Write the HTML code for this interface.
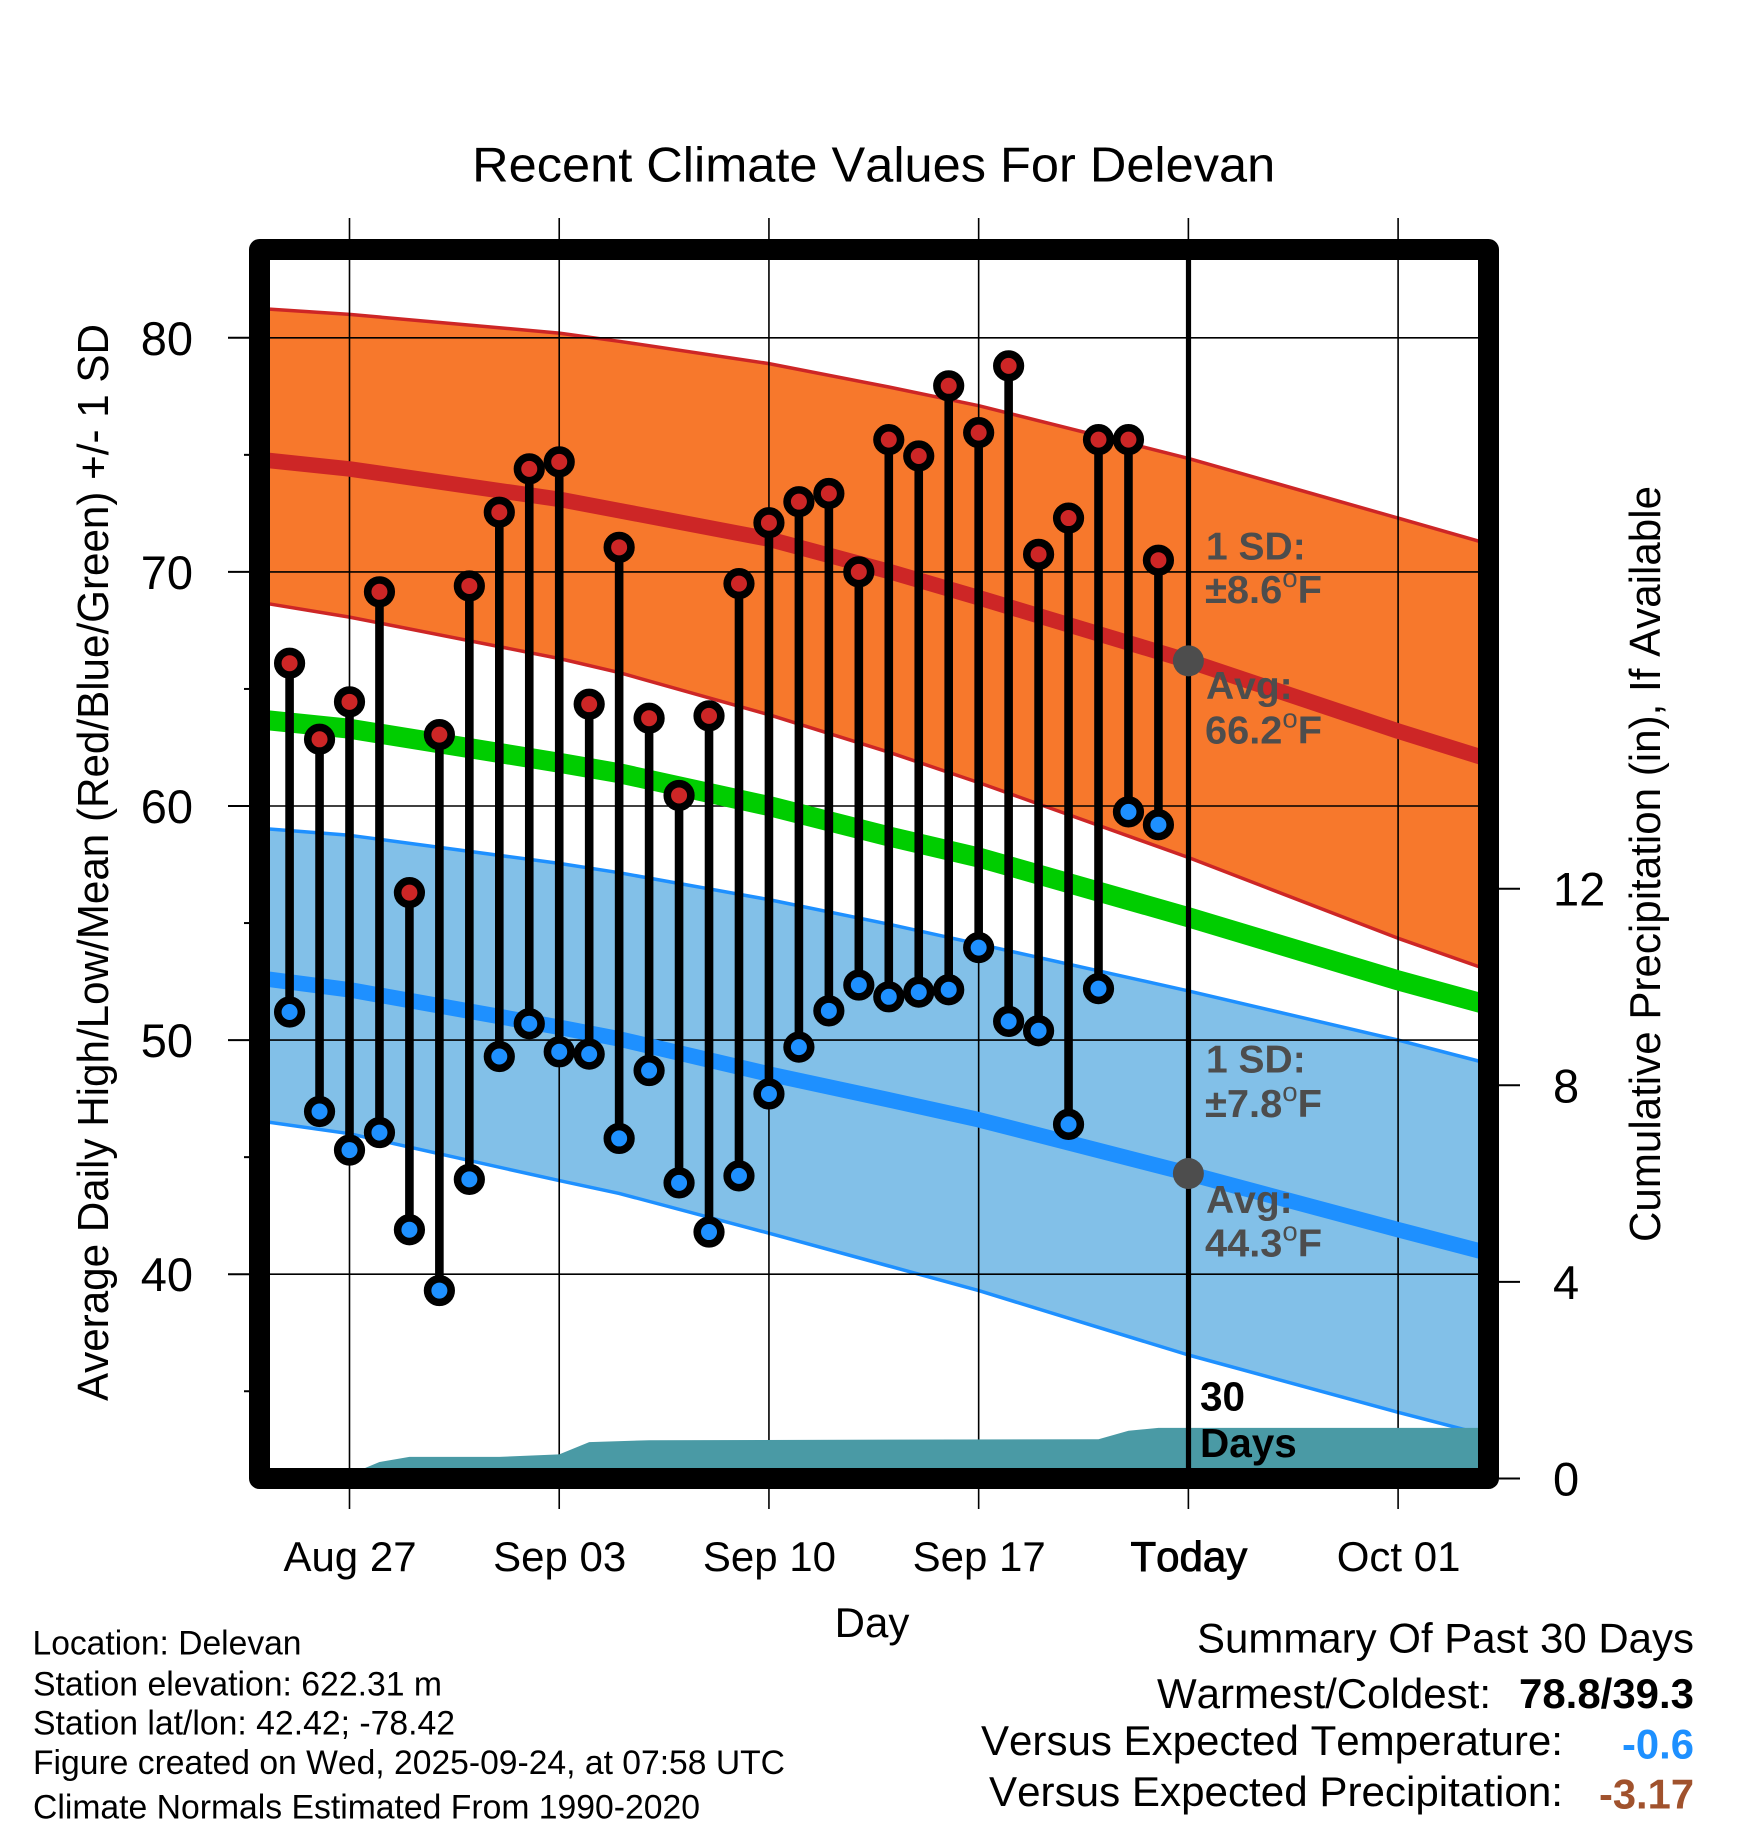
<!DOCTYPE html>
<html lang="en">
<head>
<meta charset="utf-8">
<title>Recent Climate Values For Delevan</title>
<style>
html,body{margin:0;padding:0;background:#fff;width:1748px;height:1828px;overflow:hidden}
svg{display:block;font-family:"Liberation Sans",Arial,sans-serif}
text{fill:#000;font-kerning:none}
.note{font-weight:bold;font-size:39px;fill:#4d4d4d}
.note tspan.deg{font-weight:normal;font-size:27px}
</style>
</head>
<body>
<svg id="chart" xmlns="http://www.w3.org/2000/svg" width="1748" height="1828" viewBox="0 0 1748 1828">
  <rect x="0" y="0" width="1748" height="1828" fill="#fff"/>
  <g id="bands"></g>
  <g id="grid"></g>
  <g id="means"></g>
  <g id="precip"></g>
  <g id="stems"></g>
  <g id="points"></g>
  <line x1="1188.5" x2="1188.5" y1="255" y2="1475" stroke="#000" stroke-width="5.2"/>
  <g id="todayMarks"></g>
  <rect x="259.5" y="249.5" width="1229" height="1229" fill="none" stroke="#000" stroke-width="21" stroke-linejoin="round"/>
  <g id="axes"></g>

  <text x="873.7" y="181.5" text-anchor="middle" font-size="49" textLength="803" lengthAdjust="spacingAndGlyphs">Recent Climate Values For Delevan</text>
  <text transform="translate(108,862.5) rotate(-90)" text-anchor="middle" font-size="44" textLength="1077" lengthAdjust="spacingAndGlyphs">Average Daily High/Low/Mean (Red/Blue/Green) +/- 1 SD</text>
  <text transform="translate(1660,864) rotate(-90)" text-anchor="middle" font-size="44" textLength="756" lengthAdjust="spacingAndGlyphs">Cumulative Precipitation (in), If Available</text>
  <text x="872" y="1637" text-anchor="middle" font-size="42">Day</text>

  <text class="note" x="1206" y="559.5">1 SD:</text>
  <text class="note" x="1205" y="603" textLength="117" lengthAdjust="spacingAndGlyphs">±8.6<tspan class="deg" dy="-16">o</tspan><tspan dy="16">F</tspan></text>
  <text class="note" x="1206" y="699">Avg:</text>
  <text class="note" x="1205" y="743.3" textLength="117" lengthAdjust="spacingAndGlyphs">66.2<tspan class="deg" dy="-16">o</tspan><tspan dy="16">F</tspan></text>
  <text class="note" x="1206" y="1072.6">1 SD:</text>
  <text class="note" x="1205" y="1117" textLength="117" lengthAdjust="spacingAndGlyphs">±7.8<tspan class="deg" dy="-16">o</tspan><tspan dy="16">F</tspan></text>
  <text class="note" x="1206" y="1213">Avg:</text>
  <text class="note" x="1205" y="1256.5" textLength="117" lengthAdjust="spacingAndGlyphs">44.3<tspan class="deg" dy="-16">o</tspan><tspan dy="16">F</tspan></text>
  <text x="1200" y="1410.7" font-size="40.5" font-weight="bold">30</text>
  <text x="1200" y="1457" font-size="40.5" font-weight="bold">Days</text>

  <text x="32.5" y="1654.5" font-size="34" textLength="269" lengthAdjust="spacingAndGlyphs">Location: Delevan</text>
  <text x="33" y="1695.5" font-size="34" textLength="409" lengthAdjust="spacingAndGlyphs">Station elevation: 622.31 m</text>
  <text x="33" y="1734.5" font-size="34" textLength="422" lengthAdjust="spacingAndGlyphs">Station lat/lon: 42.42; -78.42</text>
  <text x="33" y="1774" font-size="34" textLength="752" lengthAdjust="spacingAndGlyphs">Figure created on Wed, 2025-09-24, at 07:58 UTC</text>
  <text x="33" y="1818.5" font-size="34" textLength="667" lengthAdjust="spacingAndGlyphs">Climate Normals Estimated From 1990-2020</text>

  <text x="1694" y="1652.5" text-anchor="end" font-size="42" textLength="497" lengthAdjust="spacingAndGlyphs">Summary Of Past 30 Days</text>
  <text x="1491" y="1708" text-anchor="end" font-size="42" textLength="334" lengthAdjust="spacingAndGlyphs">Warmest/Coldest:</text>
  <text x="1694" y="1708" text-anchor="end" font-size="42" font-weight="bold" textLength="175" lengthAdjust="spacingAndGlyphs">78.8/39.3</text>
  <text x="1563" y="1755" text-anchor="end" font-size="42" textLength="582" lengthAdjust="spacingAndGlyphs">Versus Expected Temperature:</text>
  <text x="1694" y="1758.6" text-anchor="end" font-size="42" font-weight="bold" textLength="72" lengthAdjust="spacingAndGlyphs" style="fill:#1e90ff">-0.6</text>
  <text x="1563" y="1806" text-anchor="end" font-size="42" textLength="574" lengthAdjust="spacingAndGlyphs">Versus Expected Precipitation:</text>
  <text x="1694" y="1808.4" text-anchor="end" font-size="42" font-weight="bold" textLength="95" lengthAdjust="spacingAndGlyphs" style="fill:#a0522d">-3.17</text>
</svg>
<script>
// Observed daily values
const obsDates = ['Aug 25','Aug 26','Aug 27','Aug 28','Aug 29','Aug 30','Aug 31','Sep 01','Sep 02','Sep 03','Sep 04','Sep 05','Sep 06','Sep 07','Sep 08','Sep 09','Sep 10','Sep 11','Sep 12','Sep 13','Sep 14','Sep 15','Sep 16','Sep 17','Sep 18','Sep 19','Sep 20','Sep 21','Sep 22','Sep 23'];
const obsHigh = [66.1,62.85,64.45,69.15,56.3,63.05,69.4,72.55,74.4,74.7,64.35,71.05,63.75,60.45,63.85,69.5,72.1,73.0,73.35,70.0,75.65,74.95,77.95,75.95,78.8,70.75,72.3,75.65,75.65,70.5];
const obsLow = [51.2,46.95,45.3,46.05,41.9,39.3,44.05,49.3,50.7,49.5,49.4,45.8,48.7,43.9,41.8,44.2,47.7,49.7,51.25,52.35,51.85,52.05,52.15,53.95,50.8,50.4,46.4,52.2,59.75,59.2];

// Climate normals, sampled on these dates
const normalDates = ['Aug 24','Aug 27','Sep 03','Sep 05','Sep 10','Sep 14','Sep 17','Sep 24','Oct 01','Oct 04'];
const highUpper = [81.25,81.0,80.2,79.85,78.9,77.9,77.1,74.85,72.3,71.2];
const highMean = [74.8,74.4,73.1,72.62,71.4,70.02,68.9,66.2,63.2,62.0];
const highLower = [68.7,68.07,66.3,65.7,63.9,62.3,61.0,57.8,54.35,53.0];
const overallMean = [63.7,63.3,61.85,61.4,60.0,58.7,57.8,55.25,52.55,51.5];
const lowUpper = [59.05,58.75,57.55,57.15,56.0,54.95,54.1,52.1,50.0,49.0];
const lowMean = [52.65,52.15,50.55,50.05,48.55,47.45,46.6,44.3,41.9,40.9];
const lowLower = [46.55,46.0,44.0,43.45,41.75,40.35,39.3,36.55,34.1,33.1];

// Cumulative precipitation (days since Aug 24, inches)
const precipDays = [0,3,3.5,4,5,8,10,11,13,28,29,30,41];
const precipInches = [0,0,0.21,0.335,0.44,0.44,0.49,0.74,0.78,0.80,0.97,1.03,1.03];

// Axis ticks
const yMajorTicks = [40,50,60,70,80];
const yMinorTicks = [35,45,55,65,75];
const precipTicks = [0,4,8,12];
const xTickDates = ['Aug 27','Sep 03','Sep 10','Sep 17','Sep 24','Oct 01'];
const xTickLabels = ['Aug 27','Sep 03','Sep 10','Sep 17','Today','Oct 01'];
const todayDate = 'Sep 24';
const todayNormals = [66.2,44.3];

const MONTHS = {Aug:7,Sep:8,Oct:9};
const SVGNS = 'http://www.w3.org/2000/svg';
function dayOf(label){
  const parts = label.split(' ');
  return (Date.UTC(2025,MONTHS[parts[0]],+parts[1])-Date.UTC(2025,7,24))/86400000;
}
function xDay(d){ return 349.5+(d-3)*29.96; }
function xDate(label){ return xDay(dayOf(label)); }
function yTemp(v){ return 337.8+(80-v)*23.41; }
function yPrecip(p){ return 1478.5-p*49.15; }
function make(parent,tag,attrs,text){
  const el = document.createElementNS(SVGNS,tag);
  for(const k in attrs){ el.setAttribute(k,attrs[k]); }
  if(text!==undefined){ el.textContent = text; }
  document.getElementById(parent).appendChild(el);
  return el;
}
function seriesPoints(values){
  return normalDates.map(function(d,i){ return xDate(d).toFixed(1)+','+yTemp(values[i]).toFixed(1); });
}
function bandPath(upper,lower){
  return seriesPoints(upper).concat(seriesPoints(lower).reverse()).join(' ');
}
function drawLine(parent,values,color,width,name){
  const el = make(parent,'polyline',{points:seriesPoints(values).join(' '),fill:'none',stroke:color,'stroke-width':width,'stroke-linejoin':'round'});
  
  
}

// Shaded +/- 1 SD bands
const highBand = make('bands','polygon',{points:bandPath(highUpper,highLower),fill:'#f7782c'});


const lowBand = make('bands','polygon',{points:bandPath(lowUpper,lowLower),fill:'#82c0e8'});


drawLine('bands',highUpper,'#cd2626',3.5,'high-upper-edge');
drawLine('bands',highLower,'#cd2626',3.5,'high-lower-edge');
drawLine('bands',lowUpper,'#1e90ff',3.5,'low-upper-edge');
drawLine('bands',lowLower,'#1e90ff',3.5,'low-lower-edge');

// Mean lines
drawLine('means',highMean,'#cd2626',15.5,'high-mean-line');
drawLine('means',overallMean,'#00cd00',20,'overall-mean-line');
drawLine('means',lowMean,'#1e90ff',15.5,'low-mean-line');

// Grid and ticks
yMajorTicks.forEach(function(v){
  const g = make('grid','line',{x1:260,x2:1478,y1:yTemp(v),y2:yTemp(v),stroke:'#000','stroke-width':1.6});
  
  
  const t = make('axes','line',{x1:228,x2:250,y1:yTemp(v),y2:yTemp(v),stroke:'#000','stroke-width':2});
  
  
  const l = make('axes','text',{x:193,y:yTemp(v)+17,'text-anchor':'end','font-size':47},String(v));
  
  
});
yMinorTicks.forEach(function(v){
  const t = make('axes','line',{x1:244,x2:250,y1:yTemp(v),y2:yTemp(v),stroke:'#000','stroke-width':2});
  
  
});
precipTicks.forEach(function(p){
  const t = make('axes','line',{x1:1499,x2:1520,y1:yPrecip(p),y2:yPrecip(p),stroke:'#000','stroke-width':2});
  
  
  const l = make('axes','text',{x:1553,y:yPrecip(p)+17,'font-size':47},String(p));
  
  
});
xTickDates.forEach(function(d,i){
  const x = xDate(d);
  const g = make('grid','line',{x1:x,x2:x,y1:218,y2:1509,stroke:'#000','stroke-width':1.6});
  
  
  const attrs = {x:x+0.5,y:1571,'text-anchor':'middle','font-size':42};
  if(xTickLabels[i]==='Today'){ attrs.style = 'stroke:#000;stroke-width:0.9px'; }
  const l = make('axes','text',attrs,xTickLabels[i]);
  
  
});

// Precipitation area
const precipTop = precipDays.map(function(d,i){ return xDay(d).toFixed(1)+','+yPrecip(precipInches[i]).toFixed(1); });
const precipArea = make('precip','polygon',{points:[xDay(0).toFixed(1)+','+yPrecip(0)].concat(precipTop,[xDay(41).toFixed(1)+','+yPrecip(0)]).join(' '),fill:'#4a9aa5'});



// Daily stems and markers
obsDates.forEach(function(d,i){
  const x = xDate(d);
  const s = make('stems','line',{x1:x,x2:x,y1:yTemp(obsHigh[i]),y2:yTemp(obsLow[i]),stroke:'#000','stroke-width':8.6});
  
  
});
obsDates.forEach(function(d,i){
  const x = xDate(d);
  const h = make('points','circle',{cx:x,cy:yTemp(obsHigh[i]),r:11.8,fill:'#cd2626',stroke:'#000','stroke-width':7.6});
  
  
  const l = make('points','circle',{cx:x,cy:yTemp(obsLow[i]),r:11.8,fill:'#1e90ff',stroke:'#000','stroke-width':7.6});
  
  
});

// Today's normal markers
todayNormals.forEach(function(v){
  const c = make('todayMarks','circle',{cx:xDate(todayDate),cy:yTemp(v),r:15.5,fill:'#4d4d4d'});
  
  
});
</script>
</body>
</html>
